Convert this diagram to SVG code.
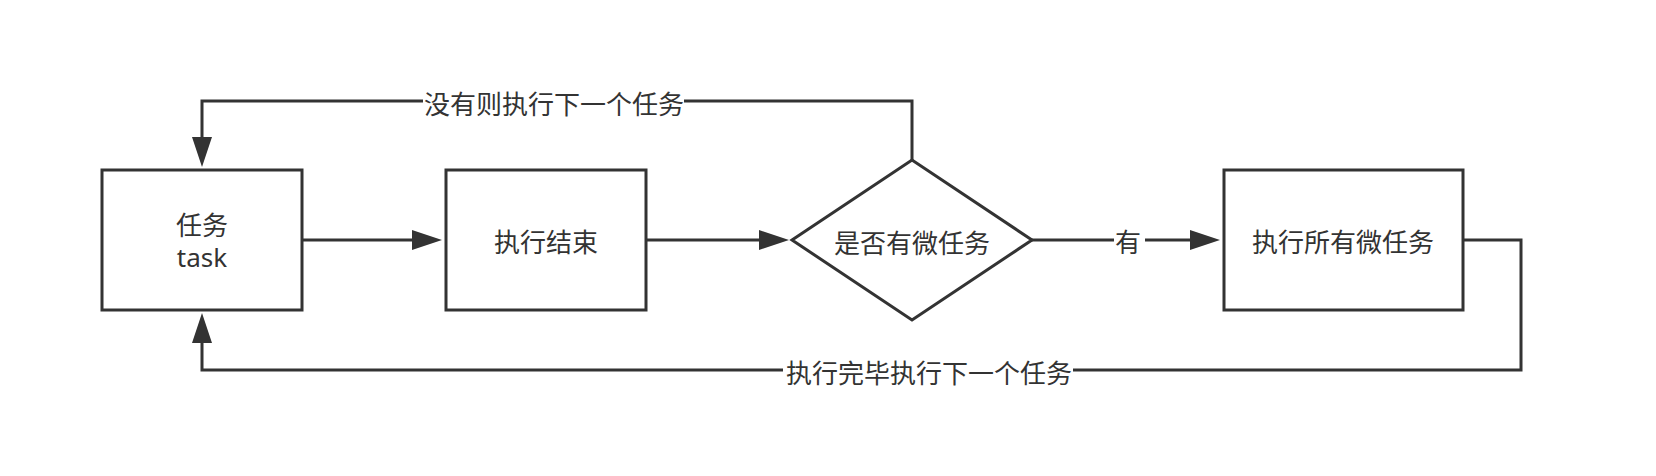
<svg xmlns="http://www.w3.org/2000/svg" width="1656" height="476" viewBox="0 0 1656 476">
  <style>
    .node { fill: #ffffff; stroke: #333333; stroke-width: 3; }
    .edge { fill: none; stroke: #333333; stroke-width: 3; }
    .lbl { font-family: "Noto Sans CJK SC", "Noto Sans", sans-serif; font-size: 26px; fill: #333333; text-anchor: middle; dominant-baseline: central; }
    .lat { font-family: "Noto Sans", "Noto Sans CJK SC", sans-serif; font-size: 26px; fill: #333333; text-anchor: middle; }
    .bg { fill: #ffffff; stroke: none; }
  </style>
  <defs>
    <marker id="arrow" markerUnits="userSpaceOnUse" markerWidth="30" markerHeight="20" refX="0" refY="10" orient="auto" viewBox="0 0 30 20">
      <path d="M0,0 L30,10 L0,20 Z" fill="#333333"/>
    </marker>
  </defs>
  <rect width="1656" height="476" fill="#ffffff"/>

  <g id="connectors">
    <path class="edge" d="M302,240 H412" marker-end="url(#arrow)"/>
    <path class="edge" d="M646,240 H759" marker-end="url(#arrow)"/>
    <path class="edge" d="M1032,240 H1190" marker-end="url(#arrow)"/>
    <path class="edge" d="M912,160 V101 H202 V137" marker-end="url(#arrow)"/>
    <path class="edge" d="M1463,240 H1521 V370 H202 V343" marker-end="url(#arrow)"/>
    <g id="label-you">
      <rect class="bg" x="1114" y="226" width="31" height="28"/>
      <text class="lbl" x="1128" y="240">有</text>
    </g>
    <g id="label-none">
      <rect class="bg" x="423" y="88" width="261" height="28"/>
      <text class="lbl" x="554" y="102">没有则执行下一个任务</text>
    </g>
    <g id="label-done">
      <rect class="bg" x="783" y="357" width="290" height="28"/>
      <text class="lbl" x="929" y="371">执行完毕执行下一个任务</text>
    </g>
  </g>

  <g id="node-task">
    <rect class="node" x="102" y="170" width="200" height="140"/>
    <text class="lbl" x="202" y="223">任务</text>
    <text class="lat" x="202" y="267">task</text>
  </g>
  <g id="node-end">
    <rect class="node" x="446" y="170" width="200" height="140"/>
    <text class="lbl" x="546" y="240">执行结束</text>
  </g>
  <g id="node-decision">
    <polygon class="node" points="792,240 912,160 1032,240 912,320"/>
    <text class="lbl" x="912" y="241">是否有微任务</text>
  </g>
  <g id="node-micro">
    <rect class="node" x="1224" y="170" width="239" height="140"/>
    <text class="lbl" x="1343" y="240">执行所有微任务</text>
  </g>
</svg>
